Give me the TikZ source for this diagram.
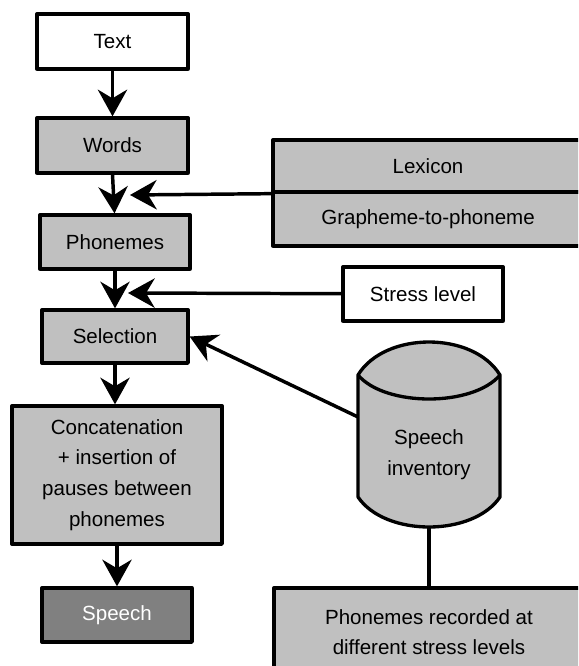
\documentclass[tikz,border=0pt]{standalone}
\usepackage{fontspec}
\setmainfont{Liberation Sans}
\usetikzlibrary{arrows.meta}
\begin{document}
\begin{tikzpicture}[x=0.75pt, y=-0.75pt, line join=round, >={Stealth[length=20pt,width=22pt,inset=6.5pt]},
		box/.style={draw, line width=2.5pt, fill=boxgray, align=center, inner sep=0pt,
			font=\fontsize{15.4}{23}\selectfont},
		wbox/.style={box, fill=white},
		link/.style={line width=2.6pt}]
				\definecolor{boxgray}{RGB}{192,192,192}
				\definecolor{darkgray}{RGB}{128,128,128}
				\useasboundingbox (0,0) rectangle (578,666);
				\clip (0,0) rectangle (578,666);
				% left column
				\node[wbox, minimum width=113.25pt, minimum height=41.25pt] (txt) at (112.5,41.5) {Text};
				\node[box, minimum width=113.25pt, minimum height=41.25pt] (words) at (112.5,145.5) {Words};
				\node[box, minimum width=112.5pt, minimum height=40.5pt] (phon) at (115,242) {Phonemes};
				\node[box, minimum width=109.5pt, minimum height=39.75pt] (sel) at (115,336.5) {Selection};
				\node[box, minimum width=157.5pt, minimum height=103.5pt] (concat) at (117,475) {Concatenation\\+ insertion of\\pauses between\\phonemes};
				\node[box, fill=darkgray, text=white, minimum width=112.5pt, minimum height=40.5pt] (speech) at (117,615) {Speech};
				% right column
				\node[box, minimum width=232.5pt, minimum height=39pt] (lex) at (428,166) {Lexicon};
				\node[box, minimum width=232.5pt, minimum height=40.5pt] (gtp) at (428,219) {Grapheme-to-phoneme};
				\node[wbox, minimum width=120pt, minimum height=40.5pt] (stress) at (423,294) {Stress level};
				\node[box, minimum width=232.5pt, minimum height=66pt] (rec) at (429,632) {Phonemes recorded at\\different stress levels};
				% speech inventory (cylinder)
				\filldraw[line width=2.5pt, fill=boxgray] (358,375) .. controls (385,331) and (473,331) .. (500,375)
					-- (500,497) .. controls (473,537) and (385,537) .. (358,497) -- cycle;
				\draw[line width=2.5pt] (358,375) .. controls (385,407) and (473,407) .. (500,375);
				\node[align=center, font=\fontsize{15.4}{23}\selectfont] (inv) at (429,455) {Speech\\inventory};
				\coordinate (invL) at (358,417);
				\coordinate (invB) at (429,526);
				\coordinate (jlex) at (130,195);
				\coordinate (jstr) at (128,293);
				% connectors
				\draw[link,->] (txt) -- (words);
				\draw[link,->] (words.south) -- ([xshift=1.5pt]phon.north west-|words.south);
				\draw[link,->] (phon) -- (sel);
				\draw[link,->] (sel.south) -- (sel.south|-concat.north);
				\draw[link,->] (concat.south) -- (concat.south|-speech.north);
				\draw[link,->] (lex.south west) -- (jlex);
				\draw[link,->] (stress) -- (jstr);
				\draw[link,->] (invL) -- (sel.east);
				\draw[link] (invB) -- (invB|-rec.north);
			\end{tikzpicture}
\end{document}
